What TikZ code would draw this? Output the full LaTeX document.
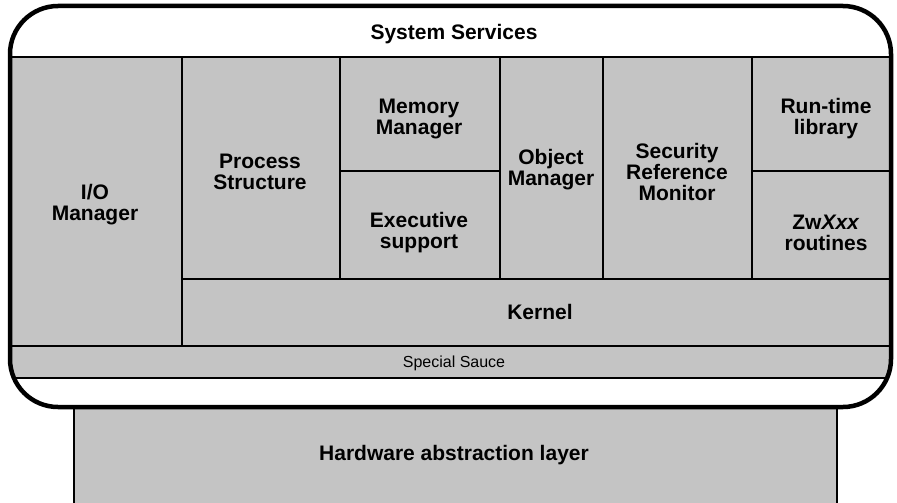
\documentclass[tikz,border=0pt]{standalone}
\usepackage{fontspec}
\setmainfont{Liberation Sans}
\usepackage{tikz}
\definecolor{panelgray}{gray}{0.77}
\tikzset{
  blocktext/.style={font=\bfseries\fontsize{21}{21}\selectfont, align=center, inner sep=0pt},
  smalltext/.style={font=\fontsize{16}{16}\selectfont, inner sep=0pt},
  divider/.style={line width=2.2pt},
  shell/.style={line width=4.5pt, rounded corners=48pt}
}

\begin{document}
\begin{tikzpicture}[x=1pt,y=-1pt]
\useasboundingbox (0,0) rectangle (897,503);
% hardware abstraction layer
\fill[panelgray] (74,405) rectangle (837,503);
\draw[divider] (74,503) -- (74,405);
\draw[divider] (837,503) -- (837,405);
% executive shell
\fill[white, rounded corners=48pt] (10,6) rectangle (891,407);
\begin{scope}
  \clip[rounded corners=48pt] (10,6) rectangle (891,407);
  \fill[panelgray] (0,57) rectangle (897,378);
  \draw[divider] (0,57) -- (897,57);
  \draw[divider] (0,346) -- (897,346);
  \draw[divider] (0,378) -- (897,378);
\end{scope}
\draw[divider] (182,279) -- (891,279);
\draw[divider] (182,57) -- (182,346);
\draw[divider] (340,57) -- (340,279);
\draw[divider] (500,57) -- (500,279);
\draw[divider] (603,57) -- (603,279);
\draw[divider] (752,57) -- (752,279);
\draw[divider] (340,171) -- (500,171);
\draw[divider] (752,171) -- (891,171);
\draw[shell] (10,6) rectangle (891,407);
% labels
\node[blocktext] (sysserv) at (454,34) {System Services};
\node[blocktext] (iomgr) at (95,205) {I/O\\Manager};
\node[blocktext] (procstr) at (260,172) {Process\\Structure};
\node[blocktext] (memmgr) at (419,119) {Memory\\Manager};
\node[blocktext] (execsup) at (419,233) {Executive\\support};
\node[blocktext] (objmgr) at (551,170) {Object\\Manager};
\node[blocktext] (secref) at (677,172) {Security\\Reference\\Monitor};
\node[blocktext] (rtlib) at (826,119) {Run-time\\library};
\node[blocktext] (zwxxx) at (826,233) {Zw\textit{Xxx}\\routines};
\node[blocktext] (kernel) at (540,312) {Kernel};
\node[smalltext] (sauce) at (454,363) {Special Sauce};
\node[blocktext] (hal) at (454,455) {Hardware abstraction layer};
\end{tikzpicture}
\end{document}
